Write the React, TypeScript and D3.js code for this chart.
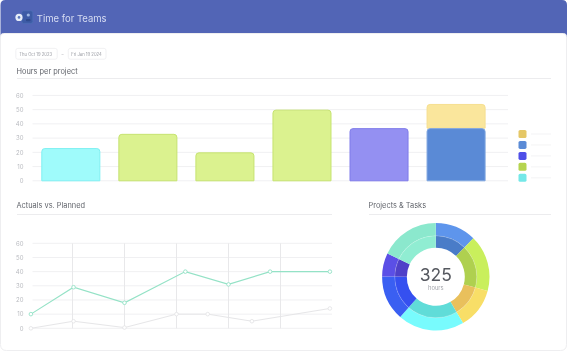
import React from "react";
import * as d3 from "d3";

const W = 568, H = 352;
const FONT = "Inter, 'Noto Sans', sans-serif";

const barProjects = ["p1", "p2", "p3", "p4", "p5", "p6"];
const barBase = [23, 33, 20, 50, 37, 37];
const barStack = [0, 0, 0, 0, 0, 17];
const barFill = ["#9ffbfb", "#dbf28f", "#dbf28f", "#dbf28f", "#9490f2", "#5a8ad6"];
const barStroke = ["#7ff0f2", "#c6e370", "#c6e370", "#c6e370", "#7f7bea", "#7ea5e0"];
const yTicks = [0, 10, 20, 30, 40, 50, 60];
const legendColors = ["#e5c766", "#5b8bd6", "#4f4fe8", "#b5d44f", "#74e8e8"];

const weekTicks = [1, 2, 3, 4, 5];
const actualT = [0.2, 1.02, 2, 3.17, 4, 4.8, 5.95];
const actualV = [10, 29, 18, 40, 31, 40, 40];
const plannedT = [0.2, 1.02, 2, 3, 3.6, 4.45, 5.95];
const plannedV = [0, 5, 0.5, 10, 10, 5, 14];

const donutValues = [40, 55, 40, 65, 44, 23, 58];
const donutOuter = ["#5e95ec", "#c9ef5c", "#f8de67", "#78fbfd", "#3a5ff2", "#5b4fe6", "#8be8cd"];
const donutInner = ["#4a7cc8", "#afd04f", "#e9c05c", "#60dcd8", "#3550f0", "#4f40c8", "#90edd2"];

const yBar = d3.scaleLinear().domain([0, 60]).range([180.8, 95.4]);
const xBar = d3.scaleBand<string>().domain(barProjects).range([32.3, 494.6]).paddingInner(18 / 77).paddingOuter(9 / 77);
const yLine = d3.scaleLinear().domain([0, 60]).range([328.3, 243.3]);
const xLine = d3.scaleLinear().domain([0, 6]).range([20.5, 332.5]);

const pie = d3.pie<number>().sort(null).value((d) => d);
const arcs = pie(donutValues);
const outerArc = d3.arc<d3.PieArcDatum<number>>().innerRadius(41).outerRadius(53.7);
const innerArc = d3.arc<d3.PieArcDatum<number>>().innerRadius(29).outerRadius(41);

const actualLine = d3.line<number>().x((_, i) => xLine(actualT[i])).y((d) => yLine(d));
const plannedLine = d3.line<number>().x((_, i) => xLine(plannedT[i])).y((d) => yLine(d));

function roundedTop(x: number, y: number, w: number, h: number, r: number) {
  const p = d3.path();
  p.moveTo(x, y + h);
  p.lineTo(x, y + r);
  p.quadraticCurveTo(x, y, x + r, y);
  p.lineTo(x + w - r, y);
  p.quadraticCurveTo(x + w, y, x + w, y + r);
  p.lineTo(x + w, y + h);
  return p.toString();
}

function cardPath(x: number, y: number, w: number, h: number, rt: number, rb: number) {
  const p = d3.path();
  p.moveTo(x + rt, y);
  p.lineTo(x + w - rt, y);
  p.quadraticCurveTo(x + w, y, x + w, y + rt);
  p.lineTo(x + w, y + h - rb);
  p.quadraticCurveTo(x + w, y + h, x + w - rb, y + h);
  p.lineTo(x + rb, y + h);
  p.quadraticCurveTo(x, y + h, x, y + h - rb);
  p.lineTo(x, y + rt);
  p.quadraticCurveTo(x, y, x + rt, y);
  p.closePath();
  return p.toString();
}

function Bar({ i, lo, hi, fill, stroke }: { i: number; lo: number; hi: number; fill: string; stroke: string }) {
  const x = xBar(barProjects[i])!;
  const top = yBar(hi), bot = yBar(lo);
  const d = roundedTop(x + 0.5, top + 0.5, xBar.bandwidth() - 1, bot - top - 0.5, 3);
  return <path d={d + "Z"} fill={fill} stroke={stroke} strokeWidth={1} />;
}

export default function App() {
  const grid = "#f0f0f2";
  const axisText = "#b9bbc0";
  return (
    <svg width={W} height={H} viewBox={`0 0 ${W} ${H}`} fontFamily={FONT}
      style={{ position: "absolute", left: 0, top: 0, filter: "blur(0.45px)", background: "#fff" }}>
      {/* header and card */}
      <path d={roundedTop(0.5, 0, W - 1.5, 46, 5) + "Z"} fill="#5265b6" />
      <path d={cardPath(0.5, 33.5, W - 2, H - 35, 3, 6)} fill="#fff" stroke="#eeeef0" />
      {/* logo */}
      <rect x={21.8} y={10.8} width={11} height={12.6} rx={2} fill="#3d5ba6" stroke="#4f73b8" strokeWidth={0.6} />
      <circle cx={19} cy={17.4} r={3.6} fill="#e6edf8" />
      <circle cx={19} cy={17.4} r={1.3} fill="#5d78bd" />
      <circle cx={28.3} cy={15} r={1.6} fill="#9db7e4" />
      <rect x={26} y={19} width={4.5} height={2.2} rx={0.8} fill="#2f4a8e" />
      <text x={36.8} y={21.6} fontSize={9.5} fill="#d6dcf2">Time for Teams</text>
      {/* date pills */}
      <rect x={15.8} y={48.4} width={41.4} height={10.8} rx={2} fill="#fff" stroke="#eeeef0" strokeWidth={0.8} />
      <text x={19.3} y={55.9} fontSize={4.2} fill="#9a9ca3">Thu Oct 19 2023</text>
      <text x={61.5} y={55.9} fontSize={4.2} fill="#9a9ca3">–</text>
      <rect x={68.3} y={48.4} width={37.7} height={10.8} rx={2} fill="#fff" stroke="#eeeef0" strokeWidth={0.8} />
      <text x={71.3} y={55.9} fontSize={4.2} fill="#9a9ca3">Fri Jan 19 2024</text>

      {/* Hours per project */}
      <text x={16.5} y={73.5} fontSize={7.4} fill="#62656c">Hours per project</text>
      <line x1={17} x2={551} y1={78.5} y2={78.5} stroke="#ececee" />
      {yTicks.map((t) => (
        <g key={t}>
          <line x1={32.5} x2={508} y1={yBar(t)} y2={yBar(t)} stroke={grid} />
          <text x={23.5} y={yBar(t) + 2.2} fontSize={6} textAnchor="end" fill={axisText}>{t}</text>
        </g>
      ))}
      {barProjects.map((p, i) => (
        <g key={p}>
          {barStack[i] > 0 && (
            <Bar i={i} lo={barBase[i]} hi={barBase[i] + barStack[i]} fill="#fae69c" stroke="#f6df90" />
          )}
          <Bar i={i} lo={0} hi={barBase[i]} fill={barFill[i]} stroke={barStroke[i]} />
        </g>
      ))}
      {legendColors.map((c, i) => (
        <g key={c}>
          <rect x={518.5} y={130 + i * 10.95} width={8} height={8} rx={1.6} fill={c} />
          <rect x={531} y={133.3 + i * 10.95} width={20} height={1.4} fill="#f7f7f8" />
        </g>
      ))}

      {/* Actuals vs. Planned */}
      <text x={16.5} y={208} fontSize={7.4} fill="#62656c">Actuals vs. Planned</text>
      <line x1={17} x2={332} y1={214.5} y2={214.5} stroke="#ececee" />
      {yTicks.map((t) => (
        <g key={t}>
          <line x1={32.5} x2={332} y1={yLine(t)} y2={yLine(t)} stroke={grid} />
          <text x={23.5} y={yLine(t) + 2.2} fontSize={6} textAnchor="end" fill={axisText}>{t}</text>
        </g>
      ))}
      {weekTicks.map((t) => (
        <line key={t} x1={xLine(t)} x2={xLine(t)} y1={243.3} y2={328.3} stroke="#e8e8ea" />
      ))}
      <path d={plannedLine(plannedV)!} fill="none" stroke="#e6e6e8" strokeWidth={1} />
      {plannedV.map((v, i) => (
        <circle key={i} cx={xLine(plannedT[i])} cy={yLine(v)} r={1.8} fill="#fff" stroke="#e2e2e4" strokeWidth={0.8} />
      ))}
      <path d={actualLine(actualV)!} fill="none" stroke="#94e2c6" strokeWidth={1.1} />
      {actualV.map((v, i) => (
        <circle key={i} cx={xLine(actualT[i])} cy={yLine(v)} r={1.8} fill="#fff" stroke="#94e2c6" strokeWidth={0.9} />
      ))}

      {/* Projects & Tasks */}
      <text x={368.5} y={208} fontSize={7.4} fill="#62656c">Projects &amp; Tasks</text>
      <line x1={369} x2={551} y1={214.5} y2={214.5} stroke="#ececee" />
      <g transform="translate(435.8,276.8)">
        {arcs.map((a, i) => (
          <path key={i} d={outerArc(a)!} fill={donutOuter[i]} />
        ))}
        {arcs.map((a, i) => (
          <path key={i} d={innerArc(a)!} fill={donutInner[i]} />
        ))}
        <circle r={41} fill="none" stroke="#ffffff" strokeOpacity={0.3} strokeWidth={0.6} />
        <text x={0} y={3.8} fontSize={17.5} textAnchor="middle" fill="#55585f">325</text>
        <text x={0} y={13.4} fontSize={5.8} textAnchor="middle" fill="#a5a7ad">hours</text>
      </g>
    </svg>
  );
}
